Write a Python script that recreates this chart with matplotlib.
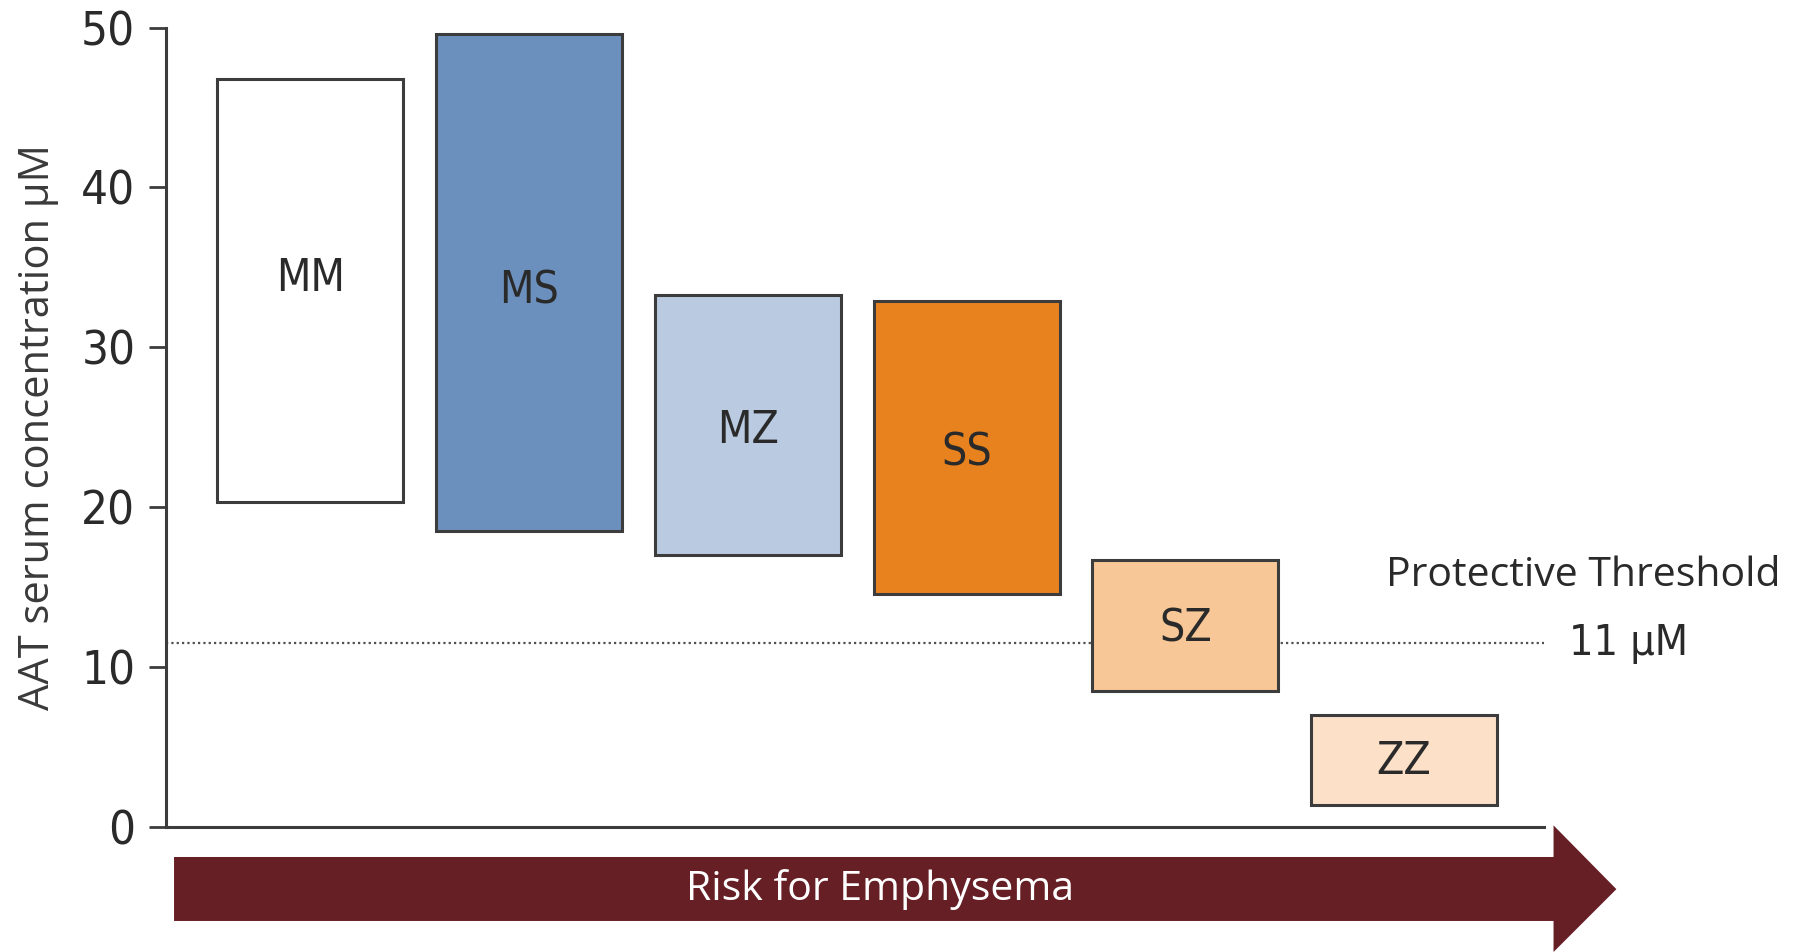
import matplotlib
matplotlib.use("Agg")
import matplotlib.pyplot as plt
from matplotlib.patches import Rectangle, Polygon

# genotype ranges of AAT serum concentration (uM)
genotypes = ["MM", "MS", "MZ", "SS", "SZ", "ZZ"]
range_low = [20.3, 18.5, 17.0, 14.6, 8.5, 1.4]
range_high = [46.8, 49.6, 33.3, 32.9, 16.7, 7.0]
box_colors = ["#ffffff", "#6c90bd", "#bacae1", "#e8821f", "#f7c797", "#fce0c8"]
label_y = [34.3, 33.5, 24.8, 23.4, 12.4, 4.1]
threshold = 11.5
yticks = [0, 10, 20, 30, 40, 50]

narrow = ["DejaVu Sans"]
plain = ["Open Sans", "DejaVu Sans"]
edge = "#3c3c3c"

fig = plt.figure(figsize=(17.96, 9.52), dpi=100)
ax = fig.add_axes([0.0924, 0.1313, 0.7673, 0.8397])
ax.set_xlim(-0.66, 5.64)
ax.set_ylim(0, 50)

width = 0.85
for i, name in enumerate(genotypes):
    lo, hi = range_low[i], range_high[i]
    ax.add_patch(Rectangle((i - width / 2, lo), width, hi - lo,
                           facecolor=box_colors[i], edgecolor=edge,
                           linewidth=2.2, zorder=3))
    ax.text(i, label_y[i], name, ha="center", va="center",
            fontsize=32, color="#2a2a2a", family=narrow,
            fontstretch="condensed", zorder=4)

# protective threshold line
ax.axhline(threshold, xmin=0, xmax=1.0, color="#505050",
           linestyle=(0, (1.0, 1.4)), linewidth=1.6, zorder=2)
ax.text(1.018, threshold, "11 \u03bcM", transform=ax.get_yaxis_transform(),
        ha="left", va="center", fontsize=31, color="#2a2a2a", family=narrow,
        fontstretch="condensed")
ax.text(0.885, 15.7, "Protective Threshold", transform=ax.get_yaxis_transform(),
        ha="left", va="center", fontsize=29.5, color="#2a2a2a", family=plain)

for side in ["top", "right"]:
    ax.spines[side].set_visible(False)
for side in ["left", "bottom"]:
    ax.spines[side].set_color(edge)
    ax.spines[side].set_linewidth(2.2)
ax.set_xticks([])
ax.set_yticks(yticks)
ax.tick_params(axis="y", length=12, width=2, color=edge, pad=10,
               labelsize=34, labelcolor="#2a2a2a")
for lab in ax.get_yticklabels():
    lab.set_family(narrow)
    lab.set_fontstretch("condensed")
ax.set_ylabel("AAT serum concentration \u03bcM", fontsize=30,
              color="#3a3a3a", family=plain, labelpad=16)

# risk arrow under the axis
arrow = Polygon([(0.0969, 0.0326), (0.865, 0.0326), (0.865, 0.0),
                 (0.900, 0.066), (0.865, 0.133), (0.865, 0.0998),
                 (0.0969, 0.0998)], closed=True, transform=fig.transFigure,
                facecolor="#661f24", edgecolor="none")
fig.patches.append(arrow)
fig.text(0.49, 0.066, "Risk for Emphysema", ha="center", va="center",
         fontsize=29.5, color="white", family=plain)

fig.savefig("out.png", dpi=100)
